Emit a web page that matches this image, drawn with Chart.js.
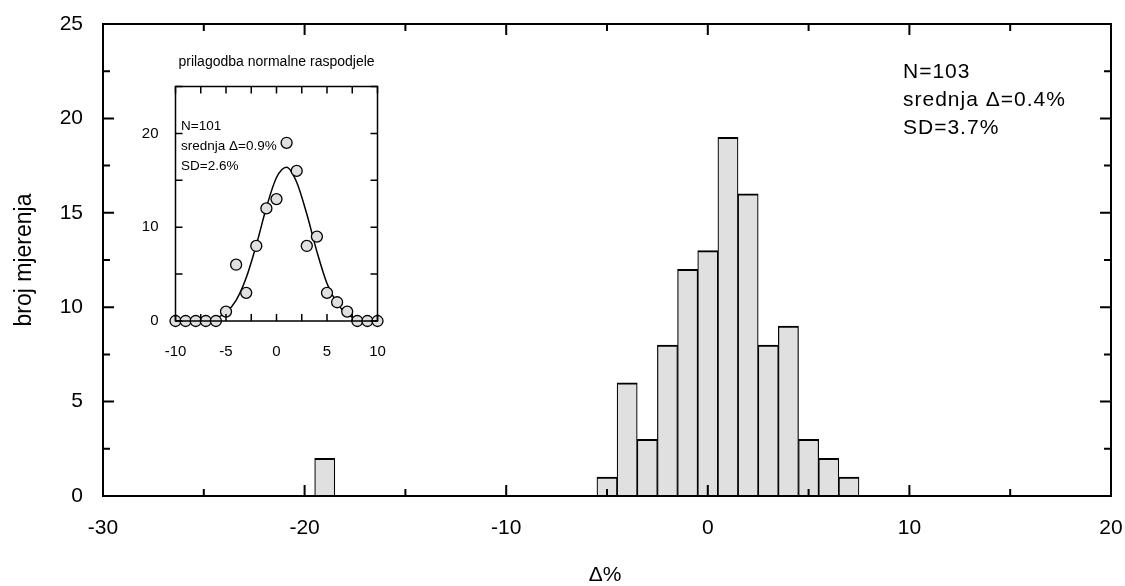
<!DOCTYPE html>
<html>
<head>
<meta charset="utf-8">
<script src="https://cdn.jsdelivr.net/npm/chart.js@4.4.1/dist/chart.umd.min.js"></script>
<style>
  body { margin: 0; background: #fff; }
  #wrap { position: relative; width: 1125px; height: 586px; }
  #main { position: absolute; left: 0; top: 0; }
  #inset { position: absolute; left: 120px; top: 40px; }
</style>
</head>
<body>
<div id="wrap">
  <canvas id="main" width="1125" height="586"></canvas>
  <canvas id="inset" width="313" height="330"></canvas>
</div>
<script>
// histogram of differences (main plot)
var binCenters = [-19, -5, -4, -3, -2, -1, 0, 1, 2, 3, 4, 5, 6, 7];
var binCounts  = [2, 1, 6, 3, 8, 12, 13, 19, 16, 8, 9, 3, 2, 1];
var mainStats  = ['N=103', 'srednja \u0394=0.4%', 'SD=3.7%'];

// inset: counts without the outlier + fitted curve
var fitX      = [-10, -9, -8, -7, -6, -5, -4, -3, -2, -1, 0, 1, 2, 3, 4, 5, 6, 7, 8, 9, 10];
var fitCounts = [0, 0, 0, 0, 0, 1, 6, 3, 8, 12, 13, 19, 16, 8, 9, 3, 2, 1, 0, 0, 0];
var curveX    = [-10, -9, -8, -7, -6, -5, -4, -3, -2, -1, 0, 1, 2, 3, 4, 5, 6, 7, 8, 9, 10];
var curveY    = [0, 0, 0, 0.1, 0.3, 0.9, 2.2, 4.6, 8.1, 12.1, 15.3, 16.4, 14.8, 11.4, 7.4, 4.0, 1.9, 0.7, 0.25, 0.07, 0];
var fitStats  = ['N=101', 'srednja \u0394=0.9%', 'SD=2.6%'];
var insetTitle = 'prilagodba normalne raspodjele';

Chart.defaults.font.family = "'Liberation Sans', Arial, sans-serif";
Chart.defaults.color = '#000';

// box round the plot with inward ticks on all four sides
var frameTicks = {
  id: 'frameTicks',
  afterDatasetsDraw: function(chart, args, o) {
    var ctx = chart.ctx, a = chart.chartArea;
    var xs = chart.scales.x, ys = chart.scales.y;
    ctx.save();
    ctx.strokeStyle = '#000';
    ctx.lineWidth = o.lineWidth;
    ctx.strokeRect(a.left, a.top, a.right - a.left, a.bottom - a.top);
    ctx.beginPath();
    xs.ticks.forEach(function(t) {
      var px = xs.getPixelForValue(t.value);
      var len = (t.value % o.xMajor === 0) ? o.major : o.minor;
      ctx.moveTo(px, a.bottom); ctx.lineTo(px, a.bottom - len);
      ctx.moveTo(px, a.top); ctx.lineTo(px, a.top + len);
    });
    ys.ticks.forEach(function(t) {
      var py = ys.getPixelForValue(t.value);
      var len = (t.value % o.yMajor === 0) ? o.major : o.minor;
      ctx.moveTo(a.left, py); ctx.lineTo(a.left + len, py);
      ctx.moveTo(a.right, py); ctx.lineTo(a.right - len, py);
    });
    ctx.stroke();
    ctx.restore();
  }
};

// free text (statistics, x title)
var notes = {
  id: 'notes',
  afterDraw: function(chart, args, o) {
    var ctx = chart.ctx;
    ctx.save();
    ctx.fillStyle = '#000';
    ctx.textBaseline = 'middle';
    o.items.forEach(function(it) {
      ctx.font = it.size + "px 'Liberation Sans', Arial, sans-serif";
      ctx.letterSpacing = (it.spacing || 0) + 'px';
      ctx.textAlign = it.align || 'left';
      ctx.fillText(it.text, it.x, it.y);
    });
    ctx.restore();
  }
};

function labelEvery(step) {
  return function(v) { return (v % step === 0) ? String(v) : ''; };
}

function fixBox(w, h) {
  return function(s) {
    if (w) s.width = w;
    if (h) s.height = h;
    s.paddingLeft = s.paddingRight = s.paddingTop = s.paddingBottom = 0;
  };
}

var mainNotes = mainStats.map(function(s, i) {
  return { text: s, x: 903, y: 72 + i * 28, size: 21, spacing: 1 };
});
mainNotes.push({ text: '\u0394%', x: 605, y: 575, size: 21, align: 'center' });

new Chart(document.getElementById('main'), {
  type: 'bar',
  data: {
    datasets: [{
      data: binCenters.map(function(c, i) { return { x: c, y: binCounts[i] }; }),
      backgroundColor: '#e0e0e0',
      borderColor: '#000',
      borderWidth: { top: 2, left: 1.2, right: 1.2, bottom: 0 },
      barPercentage: 1,
      categoryPercentage: 1
    }]
  },
  options: {
    responsive: false,
    animation: false,
    layout: { padding: { top: 24, right: 14, left: 0, bottom: 0 } },
    plugins: {
      legend: { display: false },
      tooltip: { enabled: false },
      frameTicks: { lineWidth: 2, major: 11, minor: 7, xMajor: 10, yMajor: 5 },
      notes: { items: mainNotes }
    },
    scales: {
      x: {
        type: 'linear', min: -30, max: 20, offset: false,
        grid: { display: false, drawTicks: false, offset: false },
        border: { display: false },
        ticks: { stepSize: 5, autoSkip: false, maxRotation: 0, padding: 20, font: { size: 21 }, callback: labelEvery(10) },
        afterFit: fixBox(0, 90)
      },
      y: {
        min: 0, max: 25,
        grid: { display: false, drawTicks: false },
        border: { display: false },
        ticks: { stepSize: 2.5, autoSkip: false, padding: 20, font: { size: 21 }, callback: labelEvery(5) },
        title: { display: true, text: 'broj mjerenja', font: { size: 23 }, padding: { top: 11, bottom: 0 } },
        afterFit: fixBox(103, 0)
      }
    }
  },
  plugins: [frameTicks, notes]
});

// inset: an empty right axis balances the left one so the title sits over the plot
new Chart(document.getElementById('inset'), {
  type: 'scatter',
  data: {
    datasets: [{
      data: fitX.map(function(x, i) { return { x: x, y: fitCounts[i] }; }),
      pointRadius: 5.5,
      pointBackgroundColor: '#e0e0e0',
      pointBorderColor: '#000',
      pointBorderWidth: 1.3,
      clip: false
    }, {
      data: curveX.map(function(x, i) { return { x: x, y: curveY[i] }; }),
      showLine: true,
      pointRadius: 0,
      borderColor: '#000',
      borderWidth: 1.5,
      cubicInterpolationMode: 'monotone',
      fill: false
    }]
  },
  options: {
    responsive: false,
    animation: false,
    layout: { padding: 0 },
    plugins: {
      legend: { display: false },
      tooltip: { enabled: false },
      title: { display: true, text: insetTitle, font: { size: 14, weight: 'normal' }, color: '#000', padding: { top: 13.5, bottom: 16.2 } },
      frameTicks: { lineWidth: 1.5, major: 7, minor: 7, xMajor: 5, yMajor: 10 },
      notes: {
        items: fitStats.map(function(s, i) {
          return { text: s, x: 61, y: 86 + i * 20, size: 13.5 };
        })
      }
    },
    scales: {
      x: {
        type: 'linear', min: -10, max: 10,
        grid: { display: false, drawTicks: false },
        border: { display: false },
        ticks: { stepSize: 2.5, autoSkip: false, maxRotation: 0, padding: 22, font: { size: 15 }, callback: labelEvery(5) },
        afterFit: fixBox(0, 49)
      },
      y: {
        min: 0, max: 25,
        grid: { display: false, drawTicks: false },
        border: { display: false },
        ticks: { stepSize: 5, autoSkip: false, padding: 17, font: { size: 15 }, callback: labelEvery(10) },
        afterFit: fixBox(55.5, 0)
      },
      yRight: {
        position: 'right', min: 0, max: 25,
        grid: { display: false, drawTicks: false },
        border: { display: false },
        ticks: { display: false },
        afterFit: fixBox(55.5, 0)
      }
    }
  },
  plugins: [frameTicks, notes]
});
</script>
</body>
</html>
